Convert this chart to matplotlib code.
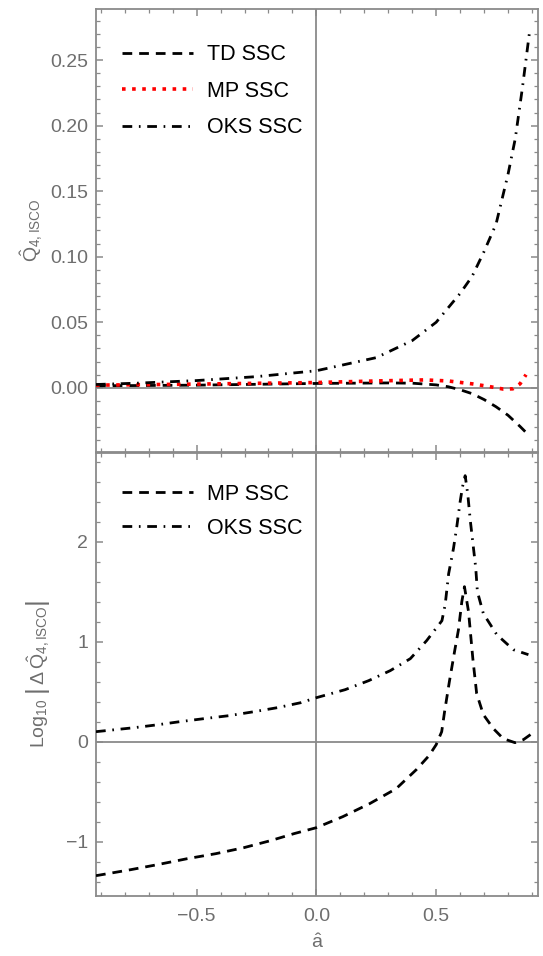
import matplotlib
matplotlib.use("Agg")
import matplotlib.pyplot as plt
from matplotlib.ticker import MultipleLocator, FuncFormatter

# top panel: Q4 at ISCO for the three SSCs
a_oks_top = [-0.92, -0.75, -0.5, -0.25, 0.0, 0.25, 0.4, 0.5, 0.6, 0.65, 0.7, 0.75, 0.8, 0.83, 0.86, 0.89]
q_oks_top = [0.0025, 0.0035, 0.0055, 0.0085, 0.013, 0.023, 0.036, 0.05, 0.072, 0.085, 0.104, 0.125, 0.163, 0.19, 0.229, 0.272]

a_td_top = [-0.92, -0.5, 0.0, 0.3, 0.4, 0.5, 0.55, 0.6, 0.65, 0.7, 0.75, 0.8, 0.85, 0.88]
q_td_top = [0.0015, 0.002, 0.0033, 0.0037, 0.0035, 0.0022, 0.0008, -0.0015, -0.0045, -0.009, -0.0145, -0.021, -0.0295, -0.035]

a_mp_top = [-0.92, -0.5, 0.0, 0.25, 0.45, 0.55, 0.65, 0.72, 0.78, 0.82, 0.85, 0.875]
q_mp_top = [0.002, 0.0028, 0.004, 0.0052, 0.006, 0.0052, 0.003, 0.001, -0.001, -0.0008, 0.003, 0.01]

# bottom panel: log10 |delta Q4|
a_oks_bot = [-0.92, -0.76, -0.66, -0.57, -0.47, -0.365, -0.26, -0.163, -0.065, 0.0, 0.12, 0.218,
             0.308, 0.392, 0.46, 0.524, 0.5375, 0.552, 0.572, 0.586, 0.6, 0.61, 0.621, 0.632,
             0.642, 0.653, 0.665, 0.672, 0.697, 0.753, 0.822, 0.885]
d_oks_bot = [0.10, 0.14, 0.17, 0.20, 0.23, 0.26, 0.30, 0.34, 0.39, 0.44, 0.52, 0.61,
             0.71, 0.83, 1.01, 1.21, 1.37, 1.68, 1.93, 2.15, 2.4, 2.55, 2.66, 2.47,
             2.22, 1.99, 1.74, 1.5, 1.28, 1.07, 0.92, 0.87]

a_mp_bot = [-0.92, -0.775, -0.664, -0.539, -0.42, -0.303, -0.192, -0.094, 0.0, 0.11, 0.222,
            0.333, 0.417, 0.47, 0.5, 0.523, 0.535, 0.555, 0.578, 0.593, 0.607, 0.618,
            0.635, 0.653, 0.669, 0.697, 0.739, 0.78, 0.829, 0.864, 0.899]
d_mp_bot = [-1.34, -1.28, -1.23, -1.17, -1.12, -1.06, -0.99, -0.92, -0.86, -0.75, -0.62,
            -0.47, -0.28, -0.14, -0.03, 0.10, 0.3, 0.6, 0.92, 1.12, 1.4, 1.55,
            1.3, 0.83, 0.48, 0.27, 0.13, 0.03, -0.01, 0.02, 0.08]

plt.rcParams["font.family"] = ["Liberation Sans", "DejaVu Sans"]
plt.rcParams["mathtext.fontset"] = "custom"
plt.rcParams["mathtext.rm"] = "Liberation Sans"
plt.rcParams["mathtext.it"] = "Liberation Sans:italic"

GRAY = "#8a8a8a"
LABEL = "#6e6e6e"

DASH = (0, (3.5, 2.5))
DASHDOT = (0, (3.5, 2.4, 0.6, 2.4))
DOT = (0, (1, 1.8))


def minus(fmt):
    return FuncFormatter(lambda v, p: (fmt % v).replace("-", "\u2212"))


def style(ax):
    for s in ax.spines.values():
        s.set_color(GRAY)
        s.set_linewidth(1.3)
    ax.axhline(0, color=GRAY, lw=1.3, zorder=1)
    ax.axvline(0, color=GRAY, lw=1.3, zorder=1)
    ax.tick_params(which="both", direction="in", top=True, right=True,
                   color=GRAY, labelcolor=LABEL, labelsize=14, pad=5.5)
    ax.tick_params(which="major", length=5, width=1.1)
    ax.tick_params(which="minor", length=3, width=0.9)
    ax.xaxis.set_major_locator(MultipleLocator(0.5))
    ax.xaxis.set_minor_locator(MultipleLocator(0.1))
    ax.set_xlim(-0.92, 0.925)


fig = plt.figure(figsize=(5.43, 9.56), dpi=100)
ax1 = fig.add_axes([0.1768, 0.5272, 0.814, 0.4634])
ax2 = fig.add_axes([0.1768, 0.0631, 0.814, 0.4634])

leg_kw = dict(loc="upper left", frameon=False, fontsize=15.5, handlelength=3.3,
              handletextpad=0.65, borderpad=0, borderaxespad=0)

# top panel
style(ax1)
ax1.plot(a_td_top, q_td_top, color="black", lw=2.0, ls=DASH, label="TD SSC", zorder=3)
ax1.plot(a_mp_top, q_mp_top, color="red", lw=2.6, ls=DOT, label="MP SSC", zorder=3)
ax1.plot(a_oks_top, q_oks_top, color="black", lw=2.0, ls=DASHDOT, label="OKS SSC", zorder=3)
ax1.set_ylim(-0.049, 0.289)
ax1.yaxis.set_major_locator(MultipleLocator(0.05))
ax1.yaxis.set_minor_locator(MultipleLocator(0.01))
ax1.yaxis.set_major_formatter(minus("%.2f"))
ax1.tick_params(labelbottom=False)
ax1.set_ylabel(r"$\hat{\mathrm{Q}}_{4,\mathrm{ISCO}}$", fontsize=14, color=LABEL, labelpad=4)
ax1.legend(bbox_to_anchor=(0.058, 0.92), labelspacing=0.72, **leg_kw)

# bottom panel
style(ax2)
ax2.plot(a_mp_bot, d_mp_bot, color="black", lw=2.0, ls=DASH, label="MP SSC", zorder=3)
ax2.plot(a_oks_bot, d_oks_bot, color="black", lw=2.0, ls=DASHDOT, label="OKS SSC", zorder=3)
ax2.set_ylim(-1.54, 2.89)
ax2.yaxis.set_major_locator(MultipleLocator(1))
ax2.yaxis.set_minor_locator(MultipleLocator(0.2))
ax2.yaxis.set_major_formatter(minus("%.0f"))
ax2.xaxis.set_major_formatter(minus("%.1f"))
ax2.tick_params(axis="x", pad=9)
ax2.set_ylabel(r"$\mathrm{Log}_{10}\ \left|\,\Delta\,\hat{\mathrm{Q}}_{4,\mathrm{ISCO}}\right|$",
               fontsize=14, color=LABEL, labelpad=10)
ax2.set_xlabel(r"$\hat{\mathrm{a}}$", fontsize=14, color=LABEL, labelpad=6)
ax2.legend(bbox_to_anchor=(0.058, 0.93), labelspacing=0.6, **leg_kw)

fig.savefig("out.png", dpi=100)
